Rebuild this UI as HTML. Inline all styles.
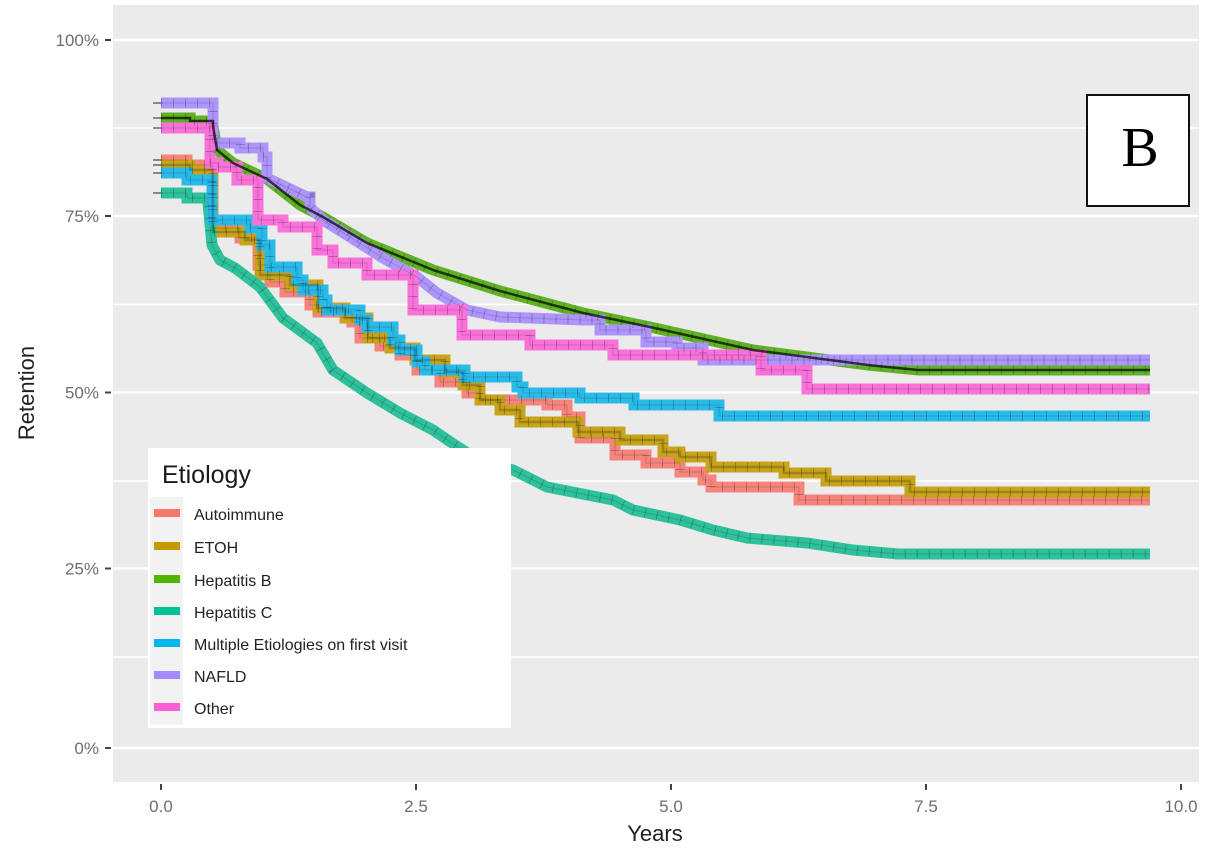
<!DOCTYPE html>
<html><head><meta charset="utf-8"><style>
html,body{margin:0;padding:0;background:#fff;}
svg{display:block;}
text{font-family:"Liberation Sans",Arial,sans-serif;}
</style></head><body>
<svg width="1208" height="849" viewBox="0 0 1208 849" xmlns="http://www.w3.org/2000/svg">
<rect width="1208" height="849" fill="#fff"/>
<rect x="113" y="5" width="1086" height="777" fill="#EBEBEB"/>
<!-- gridlines -->
<g stroke="#fff">
<line x1="113" x2="1199" y1="128" y2="128" stroke-width="1.5"/>
<line x1="113" x2="1199" y1="304.5" y2="304.5" stroke-width="1.5"/>
<line x1="113" x2="1199" y1="481" y2="481" stroke-width="1.5"/>
<line x1="113" x2="1199" y1="657" y2="657" stroke-width="1.5"/>
<line x1="113" x2="1199" y1="40" y2="40" stroke-width="2.6"/>
<line x1="113" x2="1199" y1="216" y2="216" stroke-width="2.6"/>
<line x1="113" x2="1199" y1="392.5" y2="392.5" stroke-width="2.6"/>
<line x1="113" x2="1199" y1="568.5" y2="568.5" stroke-width="2.6"/>
<line x1="113" x2="1199" y1="748" y2="748" stroke-width="2.6"/>
</g>
<!-- axis ticks -->
<g stroke="#444" stroke-width="2">
<line x1="105" x2="111" y1="40" y2="40"/>
<line x1="105" x2="111" y1="216" y2="216"/>
<line x1="105" x2="111" y1="392.5" y2="392.5"/>
<line x1="105" x2="111" y1="568.5" y2="568.5"/>
<line x1="105" x2="111" y1="748" y2="748"/>
<line x1="161" x2="161" y1="784" y2="790"/>
<line x1="416" x2="416" y1="784" y2="790"/>
<line x1="671" x2="671" y1="784" y2="790"/>
<line x1="926" x2="926" y1="784" y2="790"/>
<line x1="1181" x2="1181" y1="784" y2="790"/>
</g>
<g fill="#6e6e6e" font-size="17" text-anchor="end">
<text x="99" y="46">100%</text>
<text x="99" y="222">75%</text>
<text x="99" y="398.5">50%</text>
<text x="99" y="574.5">25%</text>
<text x="99" y="754">0%</text>
</g>
<g fill="#6e6e6e" font-size="17" text-anchor="middle">
<text x="161" y="812">0.0</text>
<text x="416" y="812">2.5</text>
<text x="671" y="812">5.0</text>
<text x="926" y="812">7.5</text>
<text x="1181" y="812">10.0</text>
</g>
<text x="655" y="841" font-size="22" fill="#222" text-anchor="middle">Years</text>
<text transform="translate(34,393) rotate(-90)" font-size="22" fill="#222" text-anchor="middle">Retention</text>

<!-- start ticks -->
<g stroke="#000" stroke-width="1.2" opacity="0.7">
<line x1="153" x2="163" y1="103" y2="103"/>
<line x1="153" x2="163" y1="118" y2="118"/>
<line x1="153" x2="163" y1="128" y2="128"/>
<line x1="153" x2="163" y1="160" y2="160"/>
<line x1="153" x2="163" y1="165" y2="165"/>
<line x1="153" x2="163" y1="173" y2="173"/>
<line x1="153" x2="163" y1="193" y2="193"/>
</g>

<defs>
<path id="pA" d="M161,160 H187 V165 H212 V228 H240 V238 H258 V265 H270 V282 H285 V292 H310 V305 H318 V312 H352 V322 H360 V338 H380 V346 H400 V355 H417 V370 H440 V382 H467 V393 H480 V400 H547 V405 H567 V417 H580 V438 H615 V455 H646 V463 H680 V472 H703 V480 H711 V487 H799 V500 H1150"/>
<path id="pE" d="M161,165 H190 V170 H213 V232 H245 V240 H260 V275 H290 V285 H318 V308 H345 V318 H368 V338 H390 V348 H415 V360 H445 V372 H463 V385 H480 V400 H500 V410 H520 V422 H578 V432 H620 V440 H663 V452 H680 V457 H711 V467 H784 V473 H826 V481 H910 V492 H1150"/>
<path id="pB" d="M161,118 H190 V121 H213 V126 L217,150 L233,163 L267,179 L300,205 L323,217 L367,243 L433,270 L500,291 L583,313 L650,327 L753,350 L868,365 L918,370 H1150"/>
<path id="pC" d="M161,193 H187 V198 H208 V203 L212,245 L220,260 L235,268 L260,287 L283,318 L317,343 L333,370 L367,393 L400,413 L433,430 L455,445 L483,463 L513,470 L547,487 L613,500 L633,510 L680,520 L713,530 L747,538 L807,543 L853,550 L898,554 H1150"/>
<path id="pM" d="M161,173 H187 V180 H212 V220 H250 V228 H262 V245 H270 V267 H297 V280 H303 V290 H323 V300 H327 V310 H360 V320 H367 V327 H393 V340 H400 V350 H417 V362 H425 V370 H465 V377 H517 V387 H523 V393 H580 V398 H634 V405 H719 V416 H1150"/>
<path id="pN" d="M161,103 H213 V143 H240 V148 H263 V157 H267 V178 L307,197 H310 V207 L323,220 L350,237 L383,258 L417,277 L437,293 L467,310 L500,317 L583,320 H600 V330 H646 V342 H677 V348 H703 V360 H1150"/>
<path id="pO" d="M161,128 H210 V163 H218 V167 H237 V180 H258 V220 H283 V227 H317 V250 H333 V263 H367 V275 H413 V310 H462 V335 H530 V345 H613 V355 H761 V370 H807 V389 H1150"/>
</defs>

<g fill="none" stroke-width="11" stroke-linejoin="miter" opacity="0.88">
<use href="#pA" stroke="#F8766D"/>
<use href="#pE" stroke="#C49A00"/>
<use href="#pB" stroke="#4DAA0A"/>
<use href="#pC" stroke="#14BC90"/>
<use href="#pM" stroke="#10B4E8"/>
<use href="#pN" stroke="#A58AFF"/>
<use href="#pO" stroke="#FB61D7"/>
</g>
<!-- dark overlays / censor marks -->
<g fill="none">
<use href="#pB" stroke="#000" stroke-width="2.5" opacity="0.7"/>
<use href="#pE" stroke="#000" stroke-width="2.5" opacity="0.2"/>
<g stroke="#000" stroke-width="9" stroke-dasharray="1 11" opacity="0.22">
<use href="#pA"/><use href="#pE"/><use href="#pB"/><use href="#pC"/><use href="#pM"/><use href="#pN"/><use href="#pO"/>
</g>
<g stroke="#000" stroke-width="1" opacity="0.15">
<use href="#pA"/><use href="#pC"/><use href="#pM"/><use href="#pN"/><use href="#pO"/>
</g>
</g>

<!-- legend -->
<rect x="148" y="448" width="363" height="280" fill="#fff"/>
<rect x="150" y="497" width="33" height="228" fill="#F2F2F2"/>
<text x="162" y="483" font-size="25" fill="#1a1a1a">Etiology</text>
<g>
<rect x="154" y="509" width="26" height="8" fill="#F8766D"/>
<rect x="154" y="542" width="26" height="8" fill="#C49A00"/>
<rect x="154" y="575" width="26" height="8" fill="#53B400"/>
<rect x="154" y="607" width="26" height="8" fill="#00C094"/>
<rect x="154" y="639" width="26" height="8" fill="#00B6EB"/>
<rect x="154" y="671" width="26" height="8" fill="#A58AFF"/>
<rect x="154" y="703" width="26" height="8" fill="#FB61D7"/>
</g>
<g font-size="16" fill="#222">
<text x="194" y="520">Autoimmune</text>
<text x="194" y="553">ETOH</text>
<text x="194" y="586">Hepatitis B</text>
<text x="194" y="618">Hepatitis C</text>
<text x="194" y="650">Multiple Etiologies on first visit</text>
<text x="194" y="682">NAFLD</text>
<text x="194" y="714">Other</text>
</g>

<!-- B box -->
<rect x="1087" y="95" width="102" height="111" fill="#fff" stroke="#111" stroke-width="2"/>
<text x="1140" y="166" font-size="56" fill="#000" text-anchor="middle" style="font-family:'Liberation Serif',serif">B</text>
</svg>
</body></html>
